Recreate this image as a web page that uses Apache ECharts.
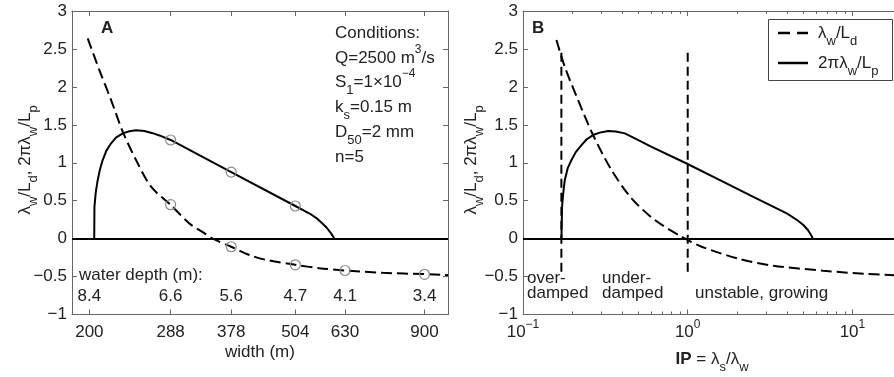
<!DOCTYPE html>
<html><head><meta charset="utf-8">
<script src="https://cdn.jsdelivr.net/npm/echarts@6/dist/echarts.min.js"></script>
<style>html,body{margin:0;padding:0;background:#fff}#c{width:894px;height:377px}</style>
</head><body><div id="c"></div>
<script>
// ---------- Panel A data (x = channel width, m) ----------
const widthTicks = [200, 288, 378, 504, 630, 900];
const depthLabels = ['8.4', '6.6', '5.6', '4.7', '4.1', '3.4'];
const widthSolidA = [204.4, 204.6, 205.9, 207.6, 209.7, 212.3, 215.9, 220.5, 225.3, 232.3, 239.3, 246.6, 256, 265.7, 273.8, 288, 378, 504, 525.2, 541.9, 556.7, 569.3, 580.9, 590.1, 596.8, 600.3];
const valSolidA   = [0, 0.42, 0.62, 0.77, 0.91, 1.036, 1.16, 1.256, 1.33, 1.387, 1.415, 1.428, 1.418, 1.39, 1.36, 1.30, 0.876, 0.43, 0.365, 0.315, 0.26, 0.2, 0.14, 0.08, 0.03, 0];
const widthDashedA = [198.5, 209.2, 220.5, 232.3, 246.6, 263.8, 288, 313.3, 332.6, 347.9, 378, 410.2, 442.1, 504, 561.7, 630, 746.3, 900, 1000];
const valDashedA   = [2.64, 2.22, 1.826, 1.41, 1.036, 0.684, 0.445, 0.2, 0.085, 0.0, -0.107, -0.216, -0.28, -0.345, -0.39, -0.42, -0.45, -0.468, -0.48];
const circleWidthSolid = [288, 378, 504];
const circleValSolid   = [1.30, 0.876, 0.43];
const circleWidthDashed = [288, 378, 504, 630, 900];
const circleValDashed   = [0.447, -0.107, -0.345, -0.42, -0.47];

// ---------- Panel B data (x = IP) ----------
const ipSolidB  = [0.1712, 0.1726, 0.1755, 0.1793, 0.1869, 0.1969, 0.2091, 0.2265, 0.2438, 0.2664, 0.2925, 0.3286, 0.3661, 0.4151, 0.4911, 0.6033, 0.9847, 1.569, 2.502, 3.993, 4.611, 5.036, 5.38, 5.665, 5.745];
const valSolidB = [0, 0.42, 0.6, 0.77, 0.93, 1.036, 1.14, 1.233, 1.31, 1.365, 1.397, 1.418, 1.412, 1.387, 1.308, 1.21, 0.99, 0.77, 0.55, 0.333, 0.245, 0.18, 0.11, 0.03, 0];
const ipDashedB  = [0.1596, 0.1793, 0.2159, 0.2664, 0.3446, 0.456, 0.632, 0.918, 1.215, 2.077, 3.31, 6.66, 12, 20];
const valDashedB = [2.617, 2.265, 1.826, 1.365, 0.904, 0.531, 0.245, 0.025, -0.107, -0.27, -0.357, -0.423, -0.465, -0.485];
const boundaryIP = [0.171, 1];
const boundaryY  = [2.45, -0.5];
const ipMajorTicks = [0.1, 1, 10];
const ipMinorTicks = [0.2, 0.3, 0.4, 0.5, 0.6, 0.7, 0.8, 0.9, 2, 3, 4, 5, 6, 7, 8, 9, 20];

// ---------- styling ----------
const FONT = '"Liberation Sans", Arial, Helvetica, sans-serif';
const TXT = '#222';
const AX = {color: '#666', width: 1};
const DASH = [11, 5];
const zip = (xs, ys) => xs.map((x, i) => [x, ys[i]]);
const fmtY = v => (v < 0 ? '\u2212' : '') + Math.abs(v);

const ecRich = {
  m: {fontSize: 17, fontFamily: FONT, color: TXT, lineHeight: 20},
  s: {fontSize: 13, fontFamily: FONT, color: TXT, lineHeight: 20, padding: [17, 0, 0, 0]},
  u: {fontSize: 12, fontFamily: FONT, color: TXT, lineHeight: 20, padding: [0, 0, 16, 0]}
};
const zrRich = {
  m: {fontSize: 17, fontFamily: FONT, fill: TXT, lineHeight: 20},
  b: {fontSize: 17, fontFamily: FONT, fill: TXT, lineHeight: 20, fontWeight: 'bold'},
  s: {fontSize: 13, fontFamily: FONT, fill: TXT, lineHeight: 20, padding: [17, 0, 0, 0]},
  u: {fontSize: 12, fontFamily: FONT, fill: TXT, lineHeight: 20, padding: [0, 0, 16, 0]}
};
function txt(x, y, str, align, rot) {
  return {
    type: 'text', x: x, y: y, rotation: rot || 0, silent: true, z: 100,
    style: {text: str, rich: zrRich, fontSize: 17, fontFamily: FONT, fill: TXT,
            align: align || 'left', verticalAlign: 'middle',
            textAlign: align || 'left', textVerticalAlign: 'middle'}
  };
}

function yAxes(grid, pos, labels) {
  return {
    gridIndex: grid, type: 'value', min: -1, max: 3, interval: 0.5, position: pos,
    axisLine: {show: true, onZero: false, lineStyle: AX},
    axisTick: {show: true, inside: true, length: 5, lineStyle: AX},
    axisLabel: {show: labels, margin: 5, formatter: fmtY, fontSize: 17, fontFamily: FONT, color: TXT},
    splitLine: {show: false}
  };
}
function xA(pos, labels) {
  return {
    gridIndex: 0, type: 'log', logBase: 10, min: 185, max: 1000, position: pos,
    axisLine: {show: true, onZero: false, lineStyle: AX},
    axisTick: {show: true, inside: true, length: 5, customValues: widthTicks, lineStyle: AX},
    axisLabel: {show: labels, customValues: widthTicks, margin: 9, formatter: v => String(Math.round(v)),
                fontSize: 17, fontFamily: FONT, color: TXT},
    splitLine: {show: false}, minorTick: {show: false}
  };
}
function xB(pos, labels) {
  return {
    gridIndex: 1, type: 'log', logBase: 10, min: 0.1, max: 20, position: pos,
    axisLine: {show: true, onZero: false, lineStyle: AX},
    axisTick: {show: true, inside: true, length: 5, customValues: ipMajorTicks, lineStyle: AX},
    axisLabel: {show: labels, customValues: ipMajorTicks, margin: 8,
                formatter: v => '{m|10}{u|' + String(Math.round(Math.log10(v))).replace('-', '\u2212') + '}',
                rich: ecRich},
    splitLine: {show: false}, minorTick: {show: false}
  };
}
function xBminor(pos) {
  return {
    gridIndex: 2, type: 'log', logBase: 10, min: 0.1, max: 20, position: pos,
    axisLine: {show: false, onZero: false},
    axisTick: {show: true, inside: true, length: 3, customValues: ipMinorTicks, lineStyle: AX},
    axisLabel: {show: false}, splitLine: {show: false}
  };
}

const zeroLine = {
  silent: true, symbol: 'none', label: {show: false},
  lineStyle: {color: '#000', width: 2, type: 'solid'}, data: [{yAxis: 0}]
};
const circleStyle = {color: 'rgba(0,0,0,0)', borderColor: '#8a8a8a', borderWidth: 1.2, opacity: 1};

const series = [
  {name: 'A-solid', type: 'line', color: '#000', xAxisIndex: 0, yAxisIndex: 0, data: zip(widthSolidA, valSolidA),
   symbol: 'none', smooth: false, lineStyle: {color: '#000', width: 2}, markLine: zeroLine},
  {name: 'A-dashed', type: 'line', color: '#000', xAxisIndex: 0, yAxisIndex: 0, data: zip(widthDashedA, valDashedA),
   symbol: 'none', smooth: 0.3, lineStyle: {color: '#000', width: 2, type: DASH}},
  {name: 'A-circ1', type: 'scatter', xAxisIndex: 0, yAxisIndex: 0, z: 5, data: zip(circleWidthSolid, circleValSolid),
   symbol: 'circle', symbolSize: 10, itemStyle: circleStyle},
  {name: 'A-circ2', type: 'scatter', xAxisIndex: 0, yAxisIndex: 0, z: 5, data: zip(circleWidthDashed, circleValDashed),
   symbol: 'circle', symbolSize: 10, itemStyle: circleStyle},
  {name: 'A-depth', type: 'scatter', xAxisIndex: 0, yAxisIndex: 0, symbolSize: 0, silent: true,
   itemStyle: {opacity: 1, color: 'rgba(0,0,0,0)'},
   data: widthTicks.map((w, i) => ({value: [w, -0.765], name: depthLabels[i]})),
   label: {show: true, position: 'inside', formatter: p => p.name, fontSize: 17, fontFamily: FONT, color: TXT, opacity: 1}},
  {name: 'Lp', type: 'line', color: '#000', xAxisIndex: 2, yAxisIndex: 2, data: zip(ipSolidB, valSolidB),
   symbol: 'none', smooth: false, lineStyle: {color: '#000', width: 2}, markLine: zeroLine},
  {name: 'Ld', type: 'line', color: '#000', xAxisIndex: 2, yAxisIndex: 2, data: zip(ipDashedB, valDashedB),
   symbol: 'none', smooth: 0.3, lineStyle: {color: '#000', width: 2, type: DASH}},
  ...boundaryIP.map((ip, i) => ({
    name: 'bound' + i, type: 'line', color: '#000', xAxisIndex: 2, yAxisIndex: 2,
    data: boundaryY.map(y => [ip, y]), symbol: 'none', lineStyle: {color: '#000', width: 2, type: [9, 5]}
  }))
];

const option = {
  animation: false,
  backgroundColor: '#fff',
  grid: [
    {left: 72, top: 11, width: 376, height: 303.5, outerBoundsMode: 'none'},
    {left: 523, top: 11, width: 379, height: 303.5, outerBoundsMode: 'none'},
    {left: 523, top: 11, width: 379, height: 303.5, outerBoundsMode: 'none'}
  ],
  xAxis: [xA('bottom', true), xA('top', false), xB('bottom', true), xB('top', false), xBminor('bottom'), xBminor('top')],
  yAxis: [yAxes(0, 'left', true), yAxes(0, 'right', false), yAxes(1, 'left', true), yAxes(1, 'right', false),
          {gridIndex: 2, type: 'value', min: -1, max: 3, show: false}],
  series: series,
  graphic: [
    // legend box for panel B
    {type: 'rect', silent: true, z: 90, shape: {x: 768.5, y: 19.5, width: 124, height: 61},
     style: {fill: '#fff', stroke: '#444', lineWidth: 1}},
    {type: 'line', silent: true, z: 95, shape: {x1: 778, y1: 33, x2: 808, y2: 33},
     style: {stroke: '#000', lineWidth: 2.5, lineDash: [12, 7]}},
    {type: 'line', silent: true, z: 95, shape: {x1: 778, y1: 63, x2: 808, y2: 63},
     style: {stroke: '#000', lineWidth: 2.5}},
    txt(818, 33, '{m|λ}{s|w}{m|/L}{s|d}'),
    txt(818, 63, '{m|2πλ}{s|w}{m|/L}{s|p}'),
    // panel labels and annotations
    txt(101, 28, '{b|A}'),
    txt(532, 28, '{b|B}'),
    txt(335, 33, '{m|Conditions:}'),
    txt(335, 58, '{m|Q=2500 m}{u|3}{m|/s}'),
    txt(335, 82, '{m|S}{s|1}{m|=1×10}{u|\u22124}'),
    txt(335, 107, '{m|k}{s|s}{m|=0.15 m}'),
    txt(335, 132, '{m|D}{s|50}{m|=2 mm}'),
    txt(335, 157, '{m|n=5}'),
    txt(79, 275, '{m|water depth (m):}'),
    txt(260, 352, '{m|width (m)}', 'center'),
    txt(712, 359, '{b|IP}{m| = λ}{s|s}{m|/λ}{s|w}', 'center'),
    txt(25, 160, '{m|λ}{s|w}{m|/L}{s|d}{m|, 2πλ}{s|w}{m|/L}{s|p}', 'center', Math.PI / 2),
    txt(471, 160, '{m|λ}{s|w}{m|/L}{s|d}{m|, 2πλ}{s|w}{m|/L}{s|p}', 'center', Math.PI / 2),
    txt(527, 278, '{m|over-}'),
    txt(527, 293, '{m|damped}'),
    txt(602, 278, '{m|under-}'),
    txt(602, 293, '{m|damped}'),
    txt(695, 293, '{m|unstable, growing}')
  ]
};
const chart = echarts.init(document.getElementById('c'));
chart.setOption(option);
</script></body></html>
